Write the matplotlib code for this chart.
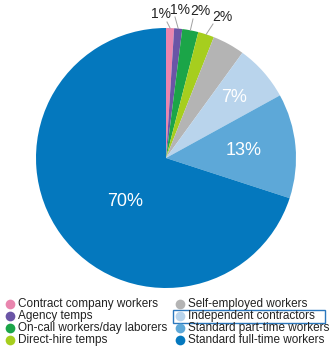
import matplotlib
matplotlib.use("Agg")
import matplotlib.pyplot as plt
import numpy as np
from matplotlib.patches import Rectangle
from matplotlib.lines import Line2D

plt.rcParams['font.family'] = ['Liberation Sans', 'DejaVu Sans']

# Employment type shares (%)
categories = [
    "Contract company workers",
    "Agency temps",
    "On-call workers/day laborers",
    "Direct-hire temps",
    "Self-employed workers",
    "Independent contractors",
    "Standard part-time workers",
    "Standard full-time workers",
]
shares = [1, 1, 2, 2, 4, 7, 13, 70]
shown_labels = ["1%", "1%", "2%", "2%", "", "7%", "13%", "70%"]
colors = ["#E985AE", "#6A55A6", "#1BA548", "#A6CE1E",
          "#B4B4B4", "#B9D4EC", "#5DA8D8", "#0478BE"]
highlight = "Independent contractors"

W, H = 334, 349
fig = plt.figure(figsize=(W / 100, H / 100), dpi=100)
ax = fig.add_axes([0, 0, 1, 1])

cx, cy, r = 166, H - 158, 130
wedges, _ = ax.pie(shares, colors=colors, startangle=90, counterclock=False,
                   center=(cx, cy), radius=r, frame=True,
                   wedgeprops=dict(linewidth=0))
ax.set_xlim(0, W)
ax.set_ylim(0, H)
ax.set_aspect('equal')
ax.axis('off')

# inner labels: (radial fraction, angle offset in degrees)
inner = {5: (0.70, 0.0), 6: (0.60, 0.0), 7: (0.46, 11.0)}
# outer labels for thin slices: label centre and leader end (pixels from top)
outer = {
    0: ((161, 14), (167, 22)),
    1: ((180, 10), (175, 17)),
    2: ((200, 11), (193, 19)),
    3: ((222, 17), (213, 24)),
}

for i, w in enumerate(wedges):
    mid = np.deg2rad((w.theta1 + w.theta2) / 2)
    if i in inner:
        frac, off = inner[i]
        a = mid + np.deg2rad(off)
        ax.text(cx + frac * r * np.cos(a), cy + frac * r * np.sin(a),
                shown_labels[i], color="white", fontsize=13,
                ha="center", va="center")
    elif i in outer:
        (tx, ty), (lx, ly) = outer[i]
        ex, ey = cx + r * np.cos(mid), cy + r * np.sin(mid)
        ax.plot([ex, lx], [ey, H - ly], color="#A0A0A0", lw=0.7)
        ax.text(tx, H - ty, shown_labels[i], color="#222222",
                fontsize=10, ha="center", va="center")

# legend, two columns, filled column-wise
col_x = [10, 180]
row_y = [304, 316, 328, 340]
for i, (name, c) in enumerate(zip(categories, colors)):
    col, row = divmod(i, 4)
    mx, my = col_x[col], H - row_y[row]
    ax.add_line(Line2D([mx], [my], marker='o', markersize=7,
                       markerfacecolor=c, markeredgewidth=0, linestyle='none'))
    ax.text(mx + 8, my, name, fontsize=8.5, color="#222222",
            ha="left", va="center")
    if name == highlight:
        ax.add_patch(Rectangle((mx - 7, my - 6.5), 152, 13, fill=False,
                               edgecolor="#2B78BE", lw=1.0))

fig.savefig("out.png", dpi=100)
